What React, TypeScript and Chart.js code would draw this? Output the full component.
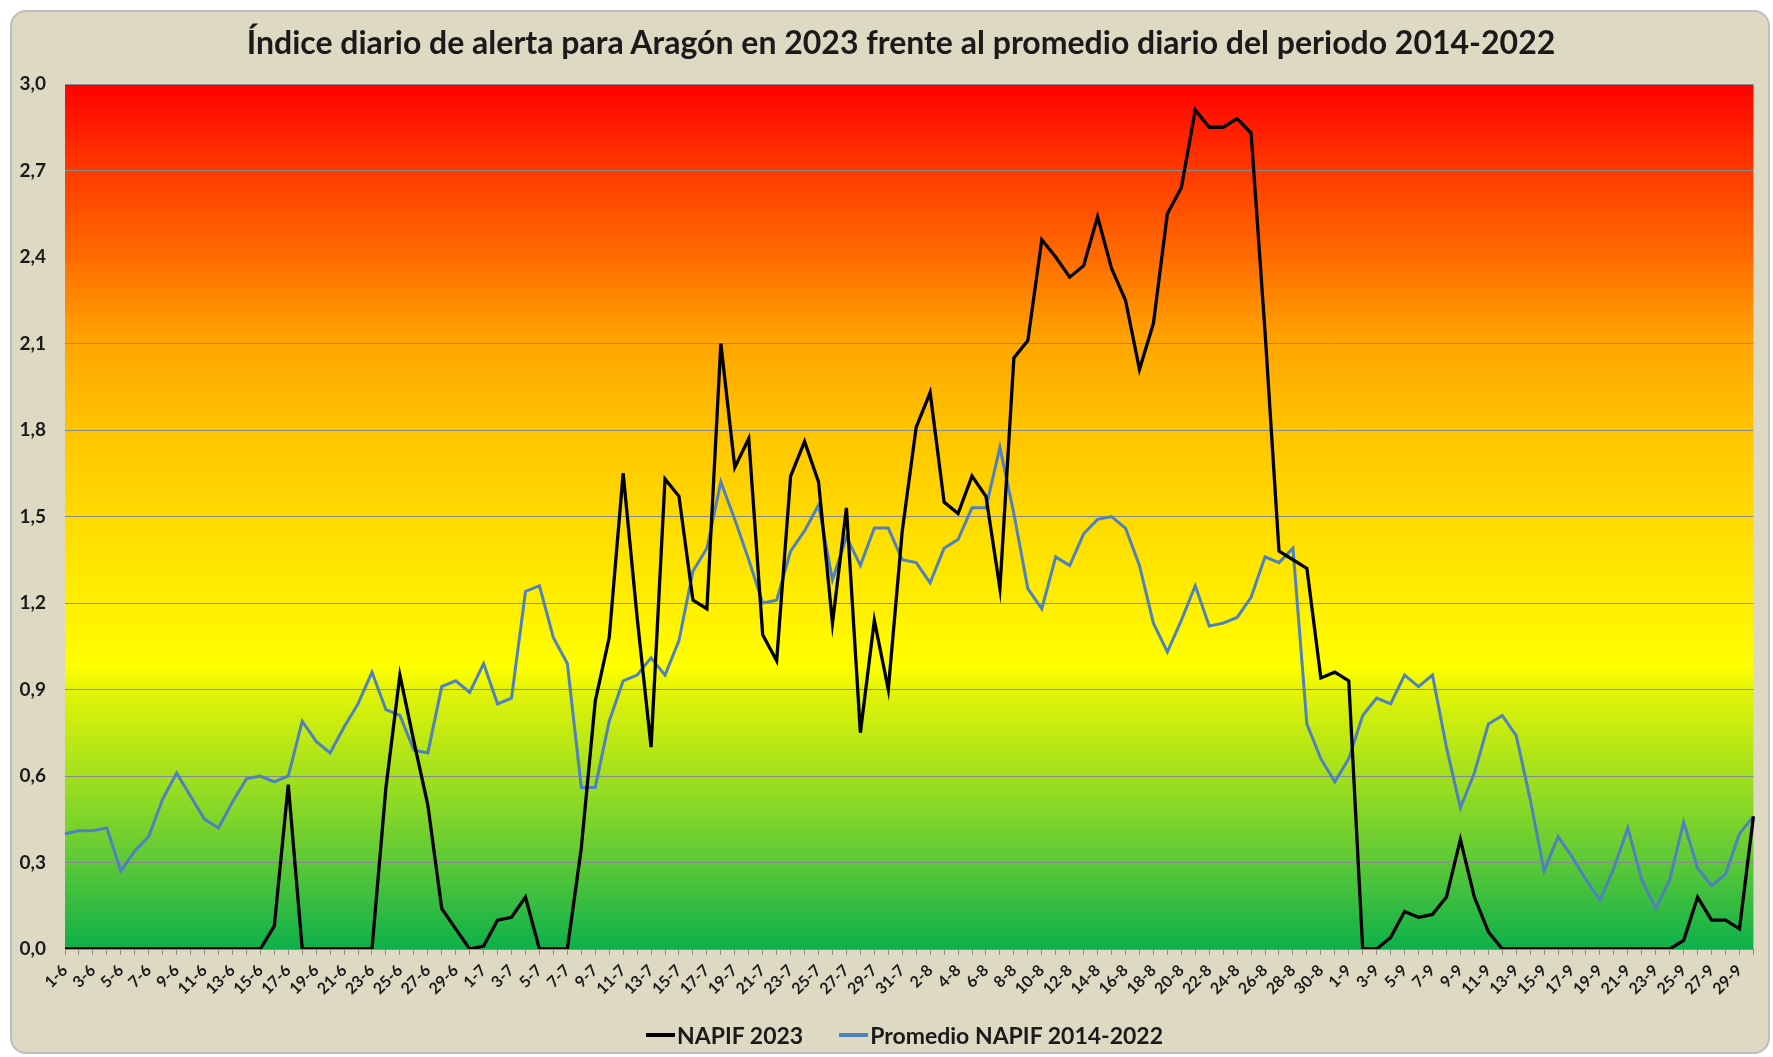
import React, { useEffect, useRef } from "react";
import { Chart, registerables } from "chart.js";

Chart.register(...registerables);

const TITLE = "Índice diario de alerta para Aragón en 2023 frente al promedio diario del periodo 2014-2022";
const SERIES_NAMES = ["NAPIF 2023", "Promedio NAPIF 2014-2022"];

const MONTHS = [6, 7, 8, 9];
const MONTH_DAYS = [30, 31, 31, 30];

const dayLabels: string[] = [];
MONTHS.forEach((m, k) => {
  for (let d = 1; d <= MONTH_DAYS[k]; d++) dayLabels.push(`${d}-${m}`);
});

const napif2023 = [
  0, 0, 0, 0, 0, 0, 0, 0, 0, 0, 0, 0, 0, 0, 0, 0.08, 0.57, 0, 0, 0,
  0, 0, 0, 0.56, 0.95, 0.72, 0.5, 0.14, 0.07, 0, 0.01, 0.1, 0.11, 0.18, 0, 0,
  0, 0.35, 0.86, 1.08, 1.65, 1.15, 0.7, 1.63, 1.57, 1.21, 1.18, 2.1, 1.67, 1.77,
  1.09, 1.0, 1.64, 1.76, 1.62, 1.13, 1.53, 0.75, 1.14, 0.9, 1.45, 1.81, 1.93, 1.55,
  1.51, 1.64, 1.57, 1.25, 2.05, 2.11, 2.46, 2.4, 2.33, 2.37, 2.54, 2.36, 2.25, 2.01,
  2.17, 2.55, 2.64, 2.91, 2.85, 2.85, 2.88, 2.83, 2.14, 1.38, 1.35, 1.32, 0.94, 0.96,
  0.93, 0, 0, 0.04, 0.13, 0.11, 0.12, 0.18, 0.38, 0.18, 0.06, 0, 0, 0,
  0, 0, 0, 0, 0, 0, 0, 0, 0, 0, 0.03, 0.18, 0.1, 0.1, 0.07, 0.46,
];

const promedio2014_2022 = [
  0.4, 0.41, 0.41, 0.42, 0.27, 0.34, 0.39, 0.52, 0.61, 0.53, 0.45, 0.42, 0.51, 0.59,
  0.6, 0.58, 0.6, 0.79, 0.72, 0.68, 0.77, 0.85, 0.96, 0.83, 0.81, 0.69, 0.68, 0.91,
  0.93, 0.89, 0.99, 0.85, 0.87, 1.24, 1.26, 1.08, 0.99, 0.56, 0.56, 0.79, 0.93, 0.95,
  1.01, 0.95, 1.07, 1.31, 1.39, 1.62, 1.49, 1.35, 1.2, 1.21, 1.38, 1.45, 1.54, 1.28,
  1.43, 1.33, 1.46, 1.46, 1.35, 1.34, 1.27, 1.39, 1.42, 1.53, 1.53, 1.74, 1.51, 1.25,
  1.18, 1.36, 1.33, 1.44, 1.49, 1.5, 1.46, 1.33, 1.13, 1.03, 1.14, 1.26, 1.12, 1.13,
  1.15, 1.22, 1.36, 1.34, 1.39, 0.78, 0.66, 0.58, 0.66, 0.81, 0.87, 0.85, 0.95, 0.91,
  0.95, 0.7, 0.49, 0.61, 0.78, 0.81, 0.74, 0.52, 0.27, 0.39, 0.32, 0.24, 0.17, 0.28,
  0.42, 0.24, 0.14, 0.24, 0.44, 0.28, 0.22, 0.26, 0.4, 0.46,
];

const Y_MIN = 0;
const Y_MAX = 3;
const Y_STEP = 0.3;

// background gradient stops: [value, color]
const BG_STOPS: [number, string][] = [
  [3.0, "#FF0000"],
  [2.7, "#FF3A00"],
  [2.4, "#FF6C00"],
  [2.1, "#FFA600"],
  [1.8, "#FFC400"],
  [1.5, "#FFDA00"],
  [1.2, "#FFEE00"],
  [0.98, "#FFFF00"],
  [0.9, "#E4F406"],
  [0.6, "#A2E01E"],
  [0.3, "#5CC838"],
  [0.0, "#0DB04A"],
];

const FONT = "Lato, 'Open Sans', sans-serif";

const gradientPlugin = {
  id: "bgGradient",
  beforeDraw(chart: any) {
    const { ctx, chartArea } = chart;
    if (!chartArea) return;
    const y = chart.scales.y;
    const g = ctx.createLinearGradient(0, chartArea.top, 0, chartArea.bottom);
    const h = chartArea.bottom - chartArea.top;
    BG_STOPS.forEach(([v, c]) => {
      const p = (y.getPixelForValue(v) - chartArea.top) / h;
      g.addColorStop(Math.min(1, Math.max(0, p)), c);
    });
    ctx.save();
    ctx.fillStyle = g;
    ctx.fillRect(chartArea.left, chartArea.top, chartArea.right - chartArea.left, h);
    ctx.restore();
  },
};

export default function App() {
  const ref = useRef<HTMLCanvasElement | null>(null);

  useEffect(() => {
    if (!ref.current) return;
    const chart = new Chart(ref.current, {
      type: "line",
      data: {
        labels: dayLabels,
        datasets: [
          {
            label: SERIES_NAMES[0],
            data: napif2023,
            borderColor: "#000000",
            backgroundColor: "#000000",
            borderWidth: 3.3,
            pointRadius: 0,
            tension: 0,
          },
          {
            label: SERIES_NAMES[1],
            data: promedio2014_2022,
            borderColor: "#4F81BD",
            backgroundColor: "#4F81BD",
            borderWidth: 3,
            pointRadius: 0,
            tension: 0,
          },
        ],
      },
      options: {
        animation: false,
        responsive: false,
        maintainAspectRatio: false,
        layout: { padding: { top: 84, bottom: 38, left: 0, right: 13 } },
        plugins: {
          legend: { display: false },
          title: { display: false },
          tooltip: { enabled: false },
        },
        scales: {
          x: {
            type: "category",
            offset: false,
            afterFit: (scale: any) => {
              scale.height = 70;
            },
            grid: {
              display: true,
              drawOnChartArea: false,
              drawTicks: true,
              tickLength: 6,
              color: "#8C8C8C",
              lineWidth: 1,
            },
            border: { display: true, color: "#8C8C8C", width: 1 },
            ticks: {
              autoSkip: false,
              maxRotation: 45,
              minRotation: 45,
              padding: 6,
              color: "#1A1A1A",
              font: { family: FONT, size: 16, weight: "bold" },
              callback: (_v: any, i: number) => (i % 2 === 0 ? dayLabels[i] : ""),
            },
          },
          y: {
            min: Y_MIN,
            max: Y_MAX,
            afterFit: (scale: any) => {
              scale.width = 65;
            },
            grid: {
              color: "#8A8A8A",
              lineWidth: 1,
              drawTicks: false,
            },
            border: { display: false },
            ticks: {
              stepSize: Y_STEP,
              padding: 19,
              color: "#1A1A1A",
              font: { family: FONT, size: 19, weight: "bold" },
              callback: (v: any) => Number(v).toFixed(1).replace(".", ","),
            },
          },
        },
      },
      plugins: [gradientPlugin],
    });
    return () => chart.destroy();
  }, []);

  return (
    <div style={{ position: "absolute", left: 0, top: 0, width: 1773, height: 1057, background: "#FFFFFF", overflow: "hidden" }}>
      <div
        style={{
          position: "absolute",
          left: 10,
          top: 10,
          width: 1760,
          height: 1044,
          boxSizing: "border-box",
          background: "#DDD9C3",
          border: "2px solid #BDBDBD",
          borderRadius: 16,
        }}
      />
      <canvas ref={ref} width={1773} height={1057} style={{ position: "absolute", left: 0, top: 0, width: 1773, height: 1057 }} />
      <div
        style={{
          position: "absolute",
          left: 0,
          top: 23,
          width: 1802,
          height: 38,
          lineHeight: "38px",
          textAlign: "center",
          fontFamily: FONT,
          fontWeight: 700,
          fontSize: 32,
          color: "#1A1A1A",
          whiteSpace: "nowrap",
        }}
      >
        {TITLE}
      </div>
      <div style={{ position: "absolute", left: 646, top: 1020, height: 30, display: "flex", alignItems: "center", fontFamily: FONT, fontWeight: 700, fontSize: 23, color: "#1A1A1A", whiteSpace: "nowrap" }}>
        <span style={{ display: "inline-block", width: 29, height: 4, background: "#000000", marginRight: 2 }} />
        <span>{SERIES_NAMES[0]}</span>
        <span style={{ display: "inline-block", width: 29, height: 4, background: "#4F81BD", marginLeft: 36, marginRight: 2 }} />
        <span>{SERIES_NAMES[1]}</span>
      </div>
    </div>
  );
}
